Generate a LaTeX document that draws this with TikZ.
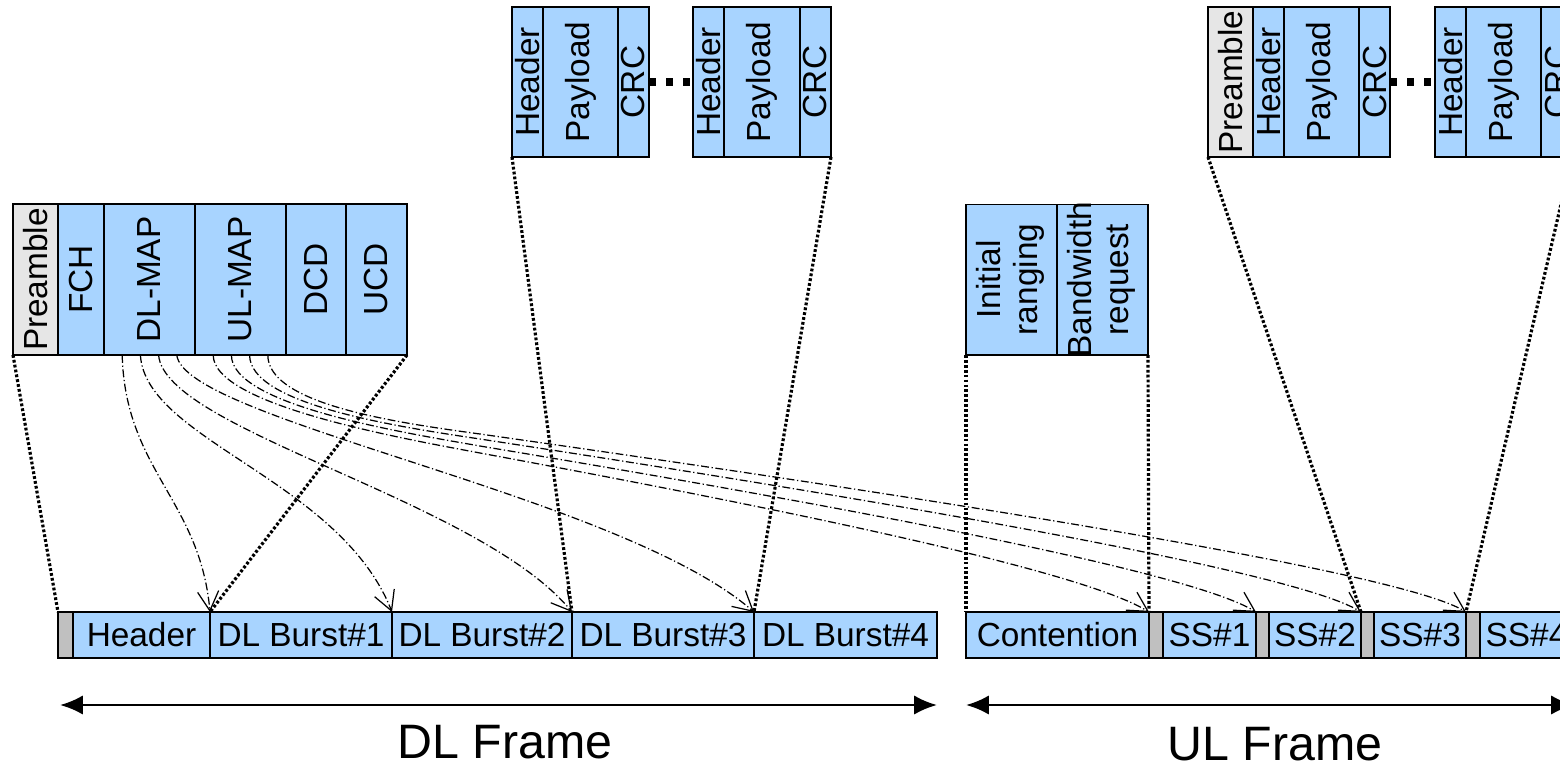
\documentclass[tikz,border=0pt]{standalone}
\usepackage{fontspec}
\setmainfont{Liberation Sans}
\usepackage{tikz}
\usetikzlibrary{arrows.meta,calc}
\definecolor{fieldblue}{RGB}{168,212,255}
\definecolor{pregray}{RGB}{230,230,230}
\definecolor{slotgray}{RGB}{192,192,192}
\newcommand{\rottext}[1]{\rotatebox{90}{\makebox[0pt]{#1}}}
\tikzstyle{fieldbox}=[rectangle, draw
,line width=0.6pt
,inner sep=0pt, outer sep=0pt
,anchor=south west
,font=\fontsize{19}{21}\selectfont
]
\tikzstyle{grpframe} = [draw,line width=1.2pt]
\tikzstyle{dotlink} = [draw,line width=1.8pt,dash pattern=on 1.6pt off 1.2pt]
\tikzstyle{maplink} = [draw,line width=0.7pt,dash pattern=on 4.5pt off 1.5pt on 0.7pt off 1.5pt
,-{Straight Barb[length=11pt,width=12pt,line width=0.7pt]}]
\tikzstyle{packetgap} = [draw,line width=4.5pt,dash pattern=on 4pt off 5.7pt]
\tikzstyle{framearrow} = [draw,line width=1.6pt,{Latex[length=13pt,width=11pt]}-{Latex[length=13pt,width=11pt]}]
\tikzstyle{framelabel} = [font=\fontsize{27.5}{31}\selectfont]

\begin{document}
\begin{tikzpicture}[x=0.02cm,y=-0.02cm]
    \useasboundingbox (0,0) rectangle (1560,765);
    \clip (0,0) rectangle (1560,765);
    % DL frame control part
    \foreach \name/\xa/\xb/\txt/\col in {pre/13/58/Preamble/pregray, fch/58/104/FCH/fieldblue,
        dlmap/104/195/DL-MAP/fieldblue, ulmap/195/286/UL-MAP/fieldblue,
        dcd/286/346/DCD/fieldblue, ucd/346/407/UCD/fieldblue}
        \node[fieldbox, fill=\col, minimum width={(\xb-\xa)*0.02cm}, minimum height=3.02cm] (\name) at (\xa,355) {\rottext{\txt}};
    \path[grpframe] (pre.south west) rectangle (ucd.north east);
    % MAC PDUs on top
    \foreach \name/\xa/\xb/\txt/\col in {pah/512/543/Header/fieldblue, pap/543/618/Payload/fieldblue,
        pac/618/649/CRC/fieldblue, pbh/693/724/Header/fieldblue, pbp/724/800/Payload/fieldblue,
        pbc/800/831/CRC/fieldblue, pcr/1208/1253/Preamble/pregray, pch/1253/1284/Header/fieldblue,
        pcp/1284/1359/Payload/fieldblue, pcc/1359/1390/CRC/fieldblue, pdh/1435/1466/Header/fieldblue,
        pdp/1466/1541/Payload/fieldblue, pdc/1541/1572/CRC/fieldblue}
        \node[fieldbox, fill=\col, minimum width={(\xb-\xa)*0.02cm}, minimum height=3cm] (\name) at (\xa,157) {\rottext{\txt}};
    \foreach \first/\last in {pah/pac, pbh/pbc, pcr/pcc, pdh/pdc}
        \path[grpframe] (\first.south west) rectangle (\last.north east);
    \path[packetgap] (pac.east) -- (pbh.west);
    \path[packetgap] (pcc.east) -- (pdh.west);
    % contention slots
    \node[fieldbox, fill=fieldblue, minimum width=1.82cm, minimum height=3.02cm] (init) at (966,355)
        {\rottext{\begin{tabular}{@{}c@{}}Initial\\ranging\end{tabular}}};
    \node[fieldbox, fill=fieldblue, minimum width=1.82cm, minimum height=3.02cm] (bwr) at (1057,355)
        {\rottext{\begin{tabular}{@{}c@{}}Bandwidth\\request\end{tabular}}};
    % the DL and UL subframes
    \foreach \name/\xa/\xb/\txt/\col in {dls/58/73//slotgray, hdr/73/210/Header/fieldblue,
        b1/210/392/DL Burst\#1/fieldblue, b2/392/572/DL Burst\#2/fieldblue,
        b3/572/754/DL Burst\#3/fieldblue, b4/754/937/DL Burst\#4/fieldblue,
        cont/966/1149/Contention/fieldblue, s1/1149/1163//slotgray, ss1/1163/1256/SS\#1/fieldblue,
        s2/1256/1269//slotgray, ss2/1269/1361/SS\#2/fieldblue, s3/1361/1374//slotgray,
        ss3/1374/1466/SS\#3/fieldblue, s4/1466/1480//slotgray, ss4/1480/1573/SS\#4/fieldblue}
        \node[fieldbox, fill=\col, minimum width={(\xb-\xa)*0.02cm}, minimum height=0.92cm] (\name) at (\xa,658) {\txt};
    \path[grpframe] (dls.south west) rectangle (b4.north east);
    \path[grpframe] (cont.south west) rectangle (ss4.north east);
    % zoom lines
    \foreach \src/\dst in {pre.south west/dls.north west, ucd.south east/hdr.north east,
        pah.south west/b2.north east, pbc.south east/b3.north east, init.south west/cont.north west,
        bwr.south east/cont.north east, pcr.south west/ss2.north east, pdc.south east/ss3.north east}
        \path[dotlink] (\src) -- (\dst);
    % DL-MAP pointers
    \foreach \f/\dest/\ca/\cb in {.2/hdr/{3,115}/{-10,-112}, .4/b1/{5,85}/{-52,-132},
        .6/b2/{6,75}/{-92,-112}, .8/b3/{7,65}/{-134,-117}}
        \path[maplink] ($(dlmap.south west)!\f!(dlmap.south east)$) .. controls +(\ca) and +(\cb) .. (\dest.north east);
    % UL-MAP pointers
    \foreach \f/\dest/\ya/\ym/\xc/\yc in {.2/cont/438/453/848/521, .4/ss1/432/446/907/517,
        .6/ss2/427/439/965/513, .8/ss3/423/434/1022/511}
        \path[maplink] ($(ulmap.south west)!\f!(ulmap.south east)$) .. controls +(0,50) and (400,\ya) .. (480,\ym)
            .. controls (\xc,\yc) and +(-60,-37) .. (\dest.north east);
    % frame lengths
    \coordinate (dlA) at (60,705);
    \coordinate (dlB) at (937,705);
    \coordinate (ulA) at (966,705);
    \coordinate (ulB) at (1574,705);
    \path[framearrow] (dlA) -- (dlB);
    \path[framearrow] (ulA) -- (ulB);
    \node[framelabel] (dlframe) at (505,742) {DL Frame};
    \node[framelabel] (ulframe) at (1275,744) {UL Frame};
\end{tikzpicture}
\end{document}
